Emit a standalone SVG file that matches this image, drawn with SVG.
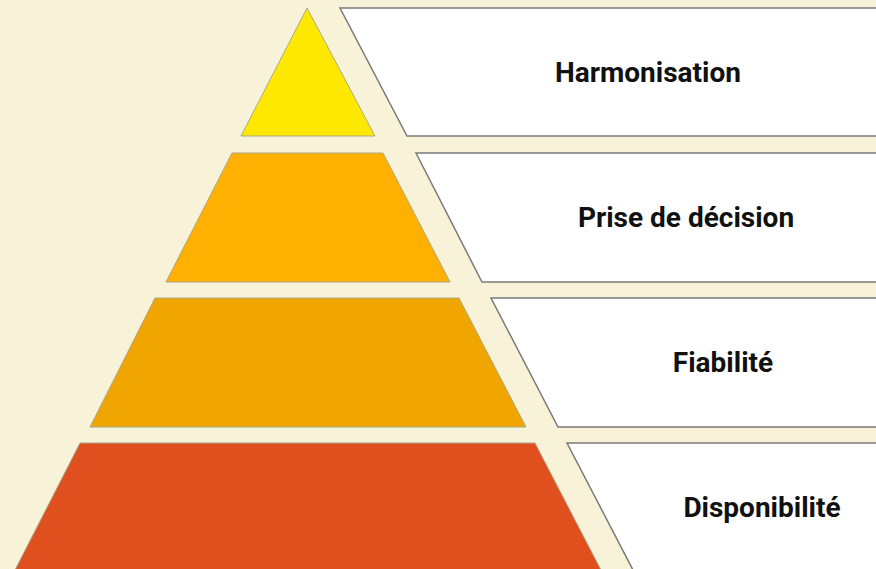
<svg xmlns="http://www.w3.org/2000/svg" width="876" height="569" viewBox="0 0 876 569">
  <style>
    .tier { stroke: #a9a98c; stroke-width: 1; stroke-linejoin: round; }
    .panel { fill: #ffffff; stroke: #7a7a7a; stroke-width: 1.5; }
    .label { font-family: Roboto, "Liberation Sans", sans-serif; font-weight: 700; font-size: 28px; fill: #111111; text-anchor: middle; }
  </style>
  <rect width="876" height="569" fill="#f7f2d8"/>

  <g id="level-harmonisation">
    <polygon class="tier" points="307,8 375,136 241,136" fill="#ffe800"/>
    <polygon class="panel" points="340,8 877,8 877,136 407,136"/>
    <text class="label" x="648" y="82">Harmonisation</text>
  </g>

  <g id="level-decision">
    <polygon class="tier" points="232,153 383,153 450,282 166,282" fill="#ffb000"/>
    <polygon class="panel" points="416,153 877,153 877,282 482,282"/>
    <text class="label" x="686" y="227">Prise de décision</text>
  </g>

  <g id="level-fiabilite">
    <polygon class="tier" points="155,298 459,298 526,427 90,427" fill="#f0a500"/>
    <polygon class="panel" points="491,298 877,298 877,427 558,427"/>
    <text class="label" x="723" y="372">Fiabilité</text>
  </g>

  <g id="level-disponibilite">
    <polygon class="tier" points="80,443 535,443 601,570 15,570" fill="#e0501e"/>
    <polygon class="panel" points="567,443 877,443 877,570 633,570"/>
    <text class="label" x="762" y="517">Disponibilité</text>
  </g>
</svg>
